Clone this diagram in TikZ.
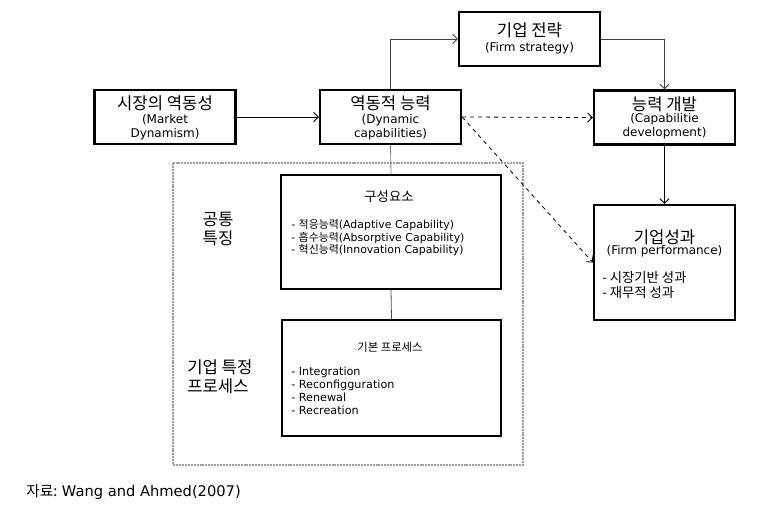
\documentclass[tikz,border=0pt]{standalone}
\usepackage{fontspec}
\setmainfont{DejaVu Sans}
\newfontfamily\kr{Noto Sans CJK KR}
\usetikzlibrary{arrows.meta}

\begin{document}
\begin{tikzpicture}[x=0.75pt,y=-0.75pt,
  box/.style={draw,line width=1.8pt,minimum width=105.75pt,minimum height=40.5pt,inner sep=0pt},
  btitle/.style={inner sep=0pt,font=\kr\fontsize{12.5}{14}\selectfont},
  bsub/.style={inner sep=0pt,align=center,font=\fontsize{9}{10.3}\selectfont},
  blist/.style={inner sep=0pt,anchor=west,align=left,font=\fontsize{8.4}{9.6}\selectfont},
  link/.style={-{Straight Barb[length=3.5pt,width=7pt]},line width=0.6pt},
  sidelab/.style={inner sep=0pt,font=\kr\fontsize{12.5}{14}\selectfont}]
  \useasboundingbox (0,0) rectangle (770,518);
  % Top row of boxes
  \node[box] (mkt) at (165,117) {};
  \node[box] (dyn) at (390.5,117) {};
  \node[box] (strat) at (529.5,39) {};
  \node[box] (capdev) at (664.5,117.5) {};
  \node[box,minimum height=86.25pt] (perf) at (664.5,262.5) {};
  % Box texts
  \node[btitle] (mkt-t) at (165,103) {시장의 역동성};
  \node[bsub] (mkt-s) at (165,127) {(Market\\Dynamism)};
  \node[btitle] (dyn-t) at (390.5,103) {역동적 능력};
  \node[bsub] (dyn-s) at (390.5,127) {(Dynamic\\capabilities)};
  \node[btitle] (strat-t) at (529.5,30) {기업 전략};
  \node[bsub] (strat-s) at (529.5,48) {(Firm strategy)};
  \node[btitle] (capdev-t) at (664.5,104) {능력 개발};
  \node[bsub] (capdev-s) at (664.5,126.5) {(Capabilitie\\development)};
  \node[btitle] (perf-t) at (664.5,237) {기업성과};
  \node[bsub] (perf-s) at (664.5,251) {(Firm performance)};
  \node[blist,font=\kr\fontsize{10}{11.25}\selectfont] (perf-l) at (602,285.5)
    {- 시장기반 성과\\- 재무적 성과};
  % Dotted frame with the two inner boxes
  \draw[gray!75,line width=2.1pt,dash pattern=on 1.5pt off 0.7pt] (173,163) rectangle (523,465);
  \node[box,minimum width=165pt,minimum height=85.5pt,fill=white] (comp) at (391,232) {};
  \node[box,minimum width=164.25pt,minimum height=87pt,fill=white] (proc) at (391.5,378) {};
  \node[inner sep=0pt,font=\kr\fontsize{10}{12}\selectfont] (comp-t) at (389,197) {구성요소};
  \node[blist,font=\fontsize{8.2}{9.4}\selectfont] (comp-l) at (291,238)
    {- {\kr 적응능력}(Adaptive Capability)\\- {\kr 흡수능력}(Absorptive Capability)\\- {\kr 혁신능력}(Innovation Capability)};
  \node[inner sep=0pt,font=\kr\fontsize{8.5}{10}\selectfont] (proc-t) at (390,347) {기본 프로세스};
  \node[blist] (proc-l) at (291,391)
    {- Integration\\- Reconfigguration\\- Renewal\\- Recreation};
  % Side labels
  \node[sidelab,align=center] (common) at (218,229) {공통\\특징};
  \node[sidelab,align=left,anchor=west] (firmproc) at (187,377) {기업 특정\\프로세스};
  % Connectors
  \draw[gray,line width=0.6pt] (dyn.south) -- (comp.north);
  \draw[black!70,line width=0.6pt] (comp.south) -- (proc.north);
  \draw[link] (mkt.east) -- (dyn.west);
  \draw[link,black!75] (dyn.north) |- (strat.west);
  \draw[link,black!75] (strat.east) -| (capdev.north);
  \draw[link,dashed] (dyn.east) -- (capdev.west);
  \draw[link,dashed] (dyn.east) -- (perf.west);
  \draw[link] (capdev.south) -- (perf.north);
  % Source note
  \node[inner sep=0pt,anchor=west,font=\fontsize{11}{13}\selectfont] (src) at (26,492)
    {{\kr 자료:}\ Wang\ and\ Ahmed(2007)};
\end{tikzpicture}
\end{document}
